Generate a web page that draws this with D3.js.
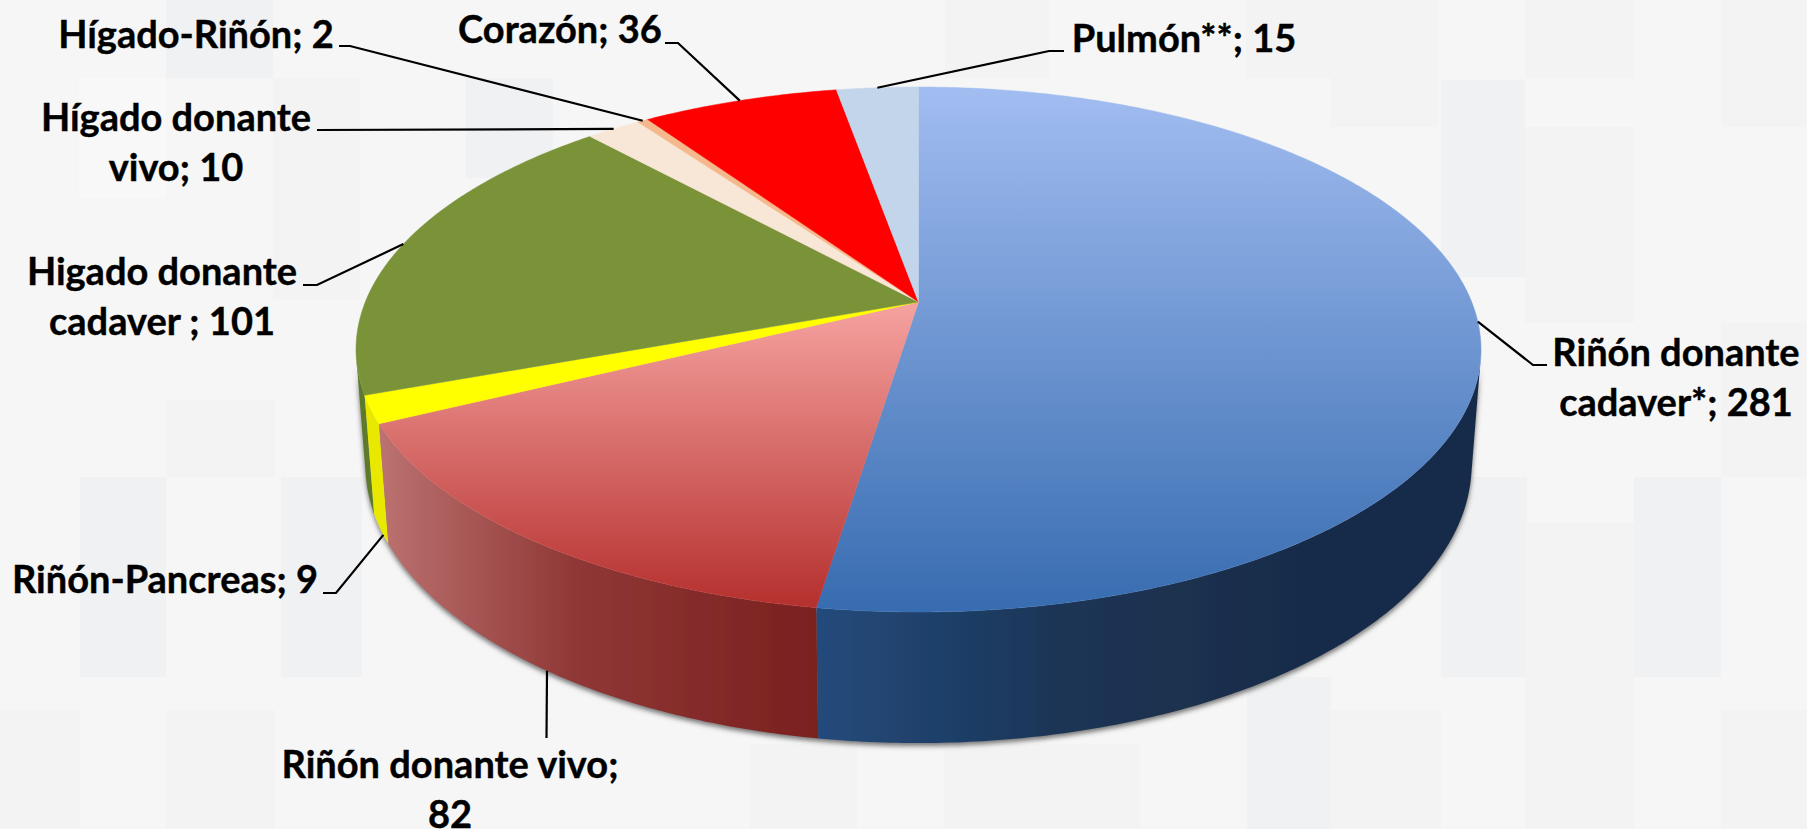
<!DOCTYPE html>
<html lang="es">
<head>
    <meta charset="UTF-8">
    <title>Trasplantes</title>
    <script src="https://d3js.org/d3.v7.min.js"></script>
    <style>
        html, body{
            margin: 0;
            background: #f6f6f6;
            overflow: hidden;
        }
        svg{
            display: block;
        }
        text{
            font-family: Lato, sans-serif;
            font-weight: 700;
            font-size: 38px;
            fill: #000;
            stroke: #000;
            stroke-width: 0.4px;
        }
    </style>
</head>
<body>
<script>

    // data, clockwise from 12 o'clock
    const organos = ["Riñón donante cadaver*", "Riñón donante vivo", "Riñón-Pancreas", "Higado donante cadaver ", "Hígado donante vivo", "Hígado-Riñón", "Corazón", "Pulmón**"]
    const valores = [281, 82, 9, 101, 10, 2, 36, 15]

    // top face gradient (back -> front) and wall gradient (left -> right on screen)
    const caraFondo = ["#a2bdf1", "#f6a3a0", "#ffff00", "#7a9238", "#f8e6d7", "#f5b88c", "#ff0000", "#c2d5ea"]
    const caraFrente = ["#376cb0", "#b5302e", "#ffff00", "#7a9238", "#f8e6d7", "#f5b88c", "#ff0000", "#c2d5ea"]
    const paredIzq = ["#234b7c", "#bb7270", "#e8e800", "#5d7a2c", "#d8c8b8", "#d8a078", "#c00000", "#98a8bc"]
    const paredDer = ["#192c48", "#7a201f", "#e8e800", "#5d7a2c", "#d8c8b8", "#d8a078", "#c00000", "#98a8bc"]

    const width = 1807
    const height = 829

    // perspective of the pie, fitted by eye on the reference
    const cx = 918.5, cy = 302
    const A = 553.2, B = 253.9, C = 114.5, k = 0.181, m = 0.0163

    // angle clockwise from top, z: 0 = top face, 1 = bottom of the wall
    function proyectar(a, z) {
        const u = Math.sin(a), v = Math.cos(a)
        const w = 1 + k * v + m * z
        return [cx + A * u / w, cy + (-B * v + C * z) / w]
    }

    // where the wall turns away from the viewer
    const silueta = Math.acos(-(k + m * B / C))

    let svg = d3.select("body").append("svg")
                .attr("width", width)
                .attr("height", height)
                .attr("viewBox", `0 0 ${width} ${height}`)
    let defs = svg.append("defs")

    // background mosaic
    const losetas = [
        [945, 0, 104, 78, "g"], [1246, 0, 85, 78, "g"], [1331, 0, 107, 127, "g"], [1525, 0, 109, 78, "g"], [1721, 0, 86, 127, "g"],
        [166, 0, 107, 78, "b"], [1441, 80, 84, 197, "b"], [1525, 127, 109, 196, "g"],
        [79, 78, 87, 120, "l"], [273, 78, 87, 222, "g"], [466, 78, 87, 100, "b"],
        [166, 400, 109, 77, "g"], [80, 477, 86, 200, "b"], [281, 477, 81, 200, "b"],
        [0, 710, 80, 119, "g"], [166, 710, 109, 119, "g"], [1441, 477, 86, 200, "b"], [1634, 477, 87, 200, "b"],
        [1525, 523, 109, 306, "g"], [1247, 677, 84, 152, "b"], [1331, 710, 110, 119, "g"], [1051, 744, 89, 85, "g"],
        [1721, 710, 86, 119, "g"], [750, 744, 107, 85, "g"], [944, 744, 107, 85, "g"], [1721, 323, 86, 154, "g"]
    ]
    const tono = { g: "#f3f3f4", b: "#f0f1f3", l: "#f8f8f8" }
    svg.append("rect").attr("width", width).attr("height", height).attr("fill", "#f6f6f6")
    svg.append("g").selectAll("rect")
        .data(losetas)
        .enter()
        .append("rect")
        .attr("x", d => d[0]).attr("y", d => d[1])
        .attr("width", d => d[2]).attr("height", d => d[3])
        .attr("fill", d => tono[d[4]])

    // slices
    const pie = d3.pie().sort(null).value(d => d).startAngle(0).endAngle(2 * Math.PI)
    const arcos = pie(valores).map((d, i) => ({ ...d, i }))
    const linea = d3.line()

    function muestras(a0, a1) {
        const n = Math.max(2, Math.ceil(Math.abs(a1 - a0) / 0.01))
        return d3.range(n + 1).map(j => a0 + (a1 - a0) * j / n)
    }

    // shadow under the wall
    let sombra = defs.append("filter").attr("id", "sombra")
        .attr("x", "-5%").attr("y", "-5%").attr("width", "110%").attr("height", "115%")
    sombra.append("feDropShadow")
        .attr("dx", 0).attr("dy", 3).attr("stdDeviation", 2.5)
        .attr("flood-color", "#4a4a4a").attr("flood-opacity", 0.75)

    // gradients
    arcos.forEach(d => {
        let g = defs.append("linearGradient").attr("id", "cara" + d.i)
            .attr("gradientUnits", "userSpaceOnUse")
            .attr("x1", 0).attr("x2", 0).attr("y1", d.i == 1 ? 302 : 87).attr("y2", d.i == 1 ? 607 : 612)
        g.append("stop").attr("offset", 0).attr("stop-color", caraFondo[d.i])
        g.append("stop").attr("offset", 1).attr("stop-color", caraFrente[d.i])
    })
    function degradadoPared(i, x1, x2, medio) {
        let g = defs.append("linearGradient").attr("id", "pared" + i)
            .attr("gradientUnits", "userSpaceOnUse")
            .attr("x1", x1).attr("x2", x2).attr("y1", 0).attr("y2", 0)
        g.append("stop").attr("offset", 0).attr("stop-color", paredIzq[i])
        if (medio) g.append("stop").attr("offset", medio[0]).attr("stop-color", medio[1])
        g.append("stop").attr("offset", 1).attr("stop-color", paredDer[i])
    }
    degradadoPared(0, 817, 1300, [0.5, "#1b3556"])
    degradadoPared(1, 380, 817, [0.45, "#8f3735"])

    // walls, only the part of the rim that faces the viewer
    const ordenParedes = [3, 2, 0, 1]
    const rango = d => {
        if (d.i == 0) return [silueta, d.endAngle]
        if (d.i == 3) return [d.startAngle, 2 * Math.PI - silueta]
        return [d.startAngle, d.endAngle]
    }
    let gParedes = svg.append("g").attr("filter", "url(#sombra)")
    gParedes.selectAll("path")
        .data(ordenParedes.map(i => arcos[i]))
        .enter()
        .append("path")
        .attr("d", d => {
            const [a0, a1] = rango(d)
            const arriba = muestras(a0, a1).map(a => proyectar(a, 0))
            const abajo = muestras(a1, a0).map(a => proyectar(a, 1))
            return linea(arriba.concat(abajo)) + "Z"
        })
        .attr("fill", d => (d.i < 2) ? `url(#pared${d.i})` : paredIzq[d.i])

    // top face
    svg.append("g").selectAll("path")
        .data(arcos)
        .enter()
        .append("path")
        .attr("d", d => {
            const puntos = muestras(d.startAngle, d.endAngle).map(a => proyectar(a, 0))
            return linea([[cx, cy]].concat(puntos)) + "Z"
        })
        .attr("fill", d => `url(#cara${d.i})`)
        .attr("stroke", d => `url(#cara${d.i})`)
        .attr("stroke-width", 0.5)

    // labels: text lines, centre x, first baseline, elbow of the leader, and the
    // place on the slice where the leader lands (z, fraction of the slice)
    const interlinea = 50
    const etiquetas = [
        { i: 0, lineas: ["Riñón donante", "cadaver*; 281"], x: 1676, y: 366, codo: [[1547, 365], [1533, 365]], z: 0, f: 0.5 },
        { i: 1, lineas: ["Riñón donante vivo;", "82"], x: 450, y: 778, codo: [[546.5, 738]], z: 1, f: 0.49 },
        { i: 2, lineas: ["Riñón-Pancreas; 9"], x: 165, y: 593, codo: [[323, 593], [336, 593]], z: 1, f: 0.3 },
        { i: 3, lineas: ["Higado donante", "cadaver ; 101"], x: 162, y: 285, codo: [[303, 285], [317, 285]], z: 0, f: 0.5 },
        { i: 4, lineas: ["Hígado donante", "vivo; 10"], x: 176, y: 131, codo: [[317, 130]], z: 0, f: 0.5 },
        { i: 5, lineas: ["Hígado-Riñón; 2"], x: 196, y: 48, codo: [[339, 46], [350, 46]], z: 0, f: 0.5 },
        { i: 6, lineas: ["Corazón; 36"], x: 560, y: 43, codo: [[665, 43], [678, 43]], z: 0, f: 0.5 },
        { i: 7, lineas: ["Pulmón**; 15"], x: 1184, y: 52, codo: [[1064, 51], [1049, 51]], z: 0, f: 0.5 }
    ]

    svg.append("g").selectAll("path")
        .data(etiquetas)
        .enter()
        .append("path")
        .attr("d", d => {
            const s = arcos[d.i]
            const a = s.startAngle + (s.endAngle - s.startAngle) * d.f
            return linea(d.codo.concat([proyectar(a, d.z)]))
        })
        .attr("fill", "none")
        .attr("stroke", "#000")
        .attr("stroke-width", 2.2)

    let gTextos = svg.append("g").selectAll("text")
        .data(etiquetas)
        .enter()
        .append("text")
        .attr("text-anchor", "middle")
    gTextos.selectAll("tspan")
        .data(d => d.lineas.map((t, j) => ({ t, x: d.x, y: d.y + j * interlinea })))
        .enter()
        .append("tspan")
        .attr("x", d => d.x)
        .attr("y", d => d.y)
        .text(d => d.t)

</script>
</body>
</html>
